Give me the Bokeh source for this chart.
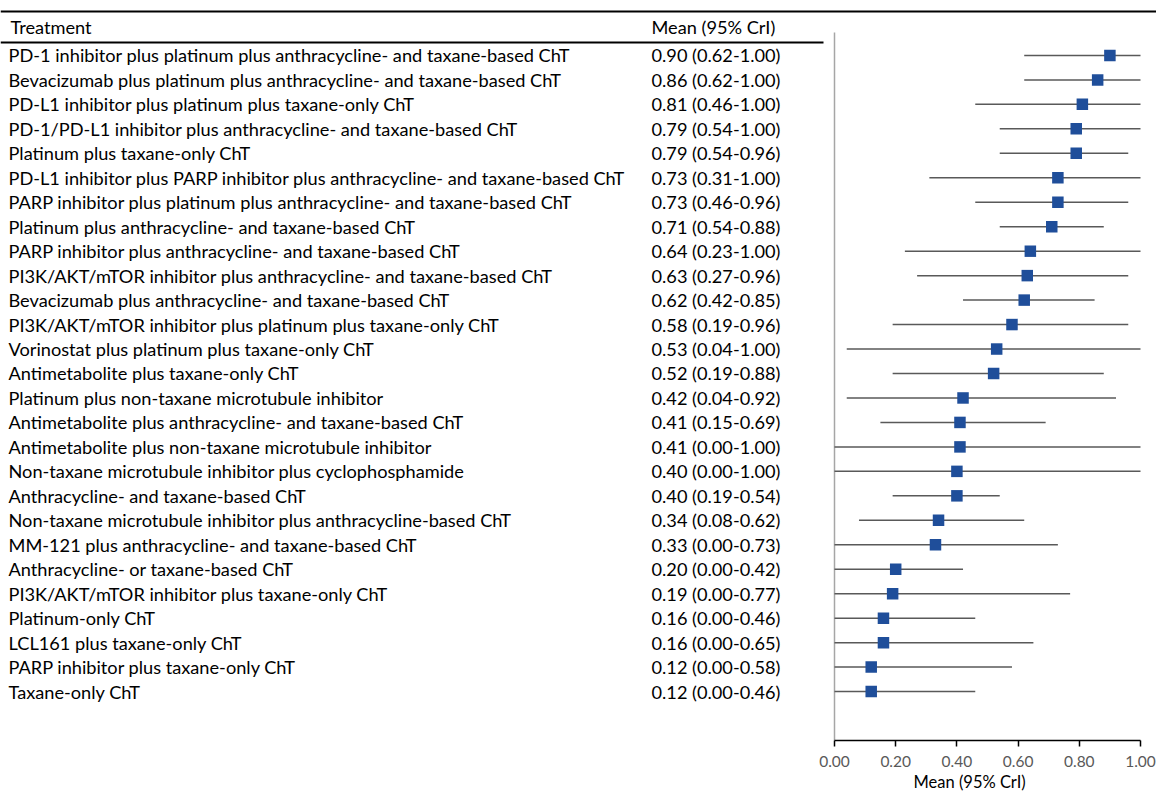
from bokeh.plotting import figure
from bokeh.models import Range1d, LinearAxis, FixedTicker, NumeralTickFormatter, ColumnDataSource, Title
from bokeh.core.properties import value
from bokeh.embed import file_html
from bokeh.resources import INLINE

treatments = [
    "PD-1 inhibitor plus platinum plus anthracycline- and taxane-based ChT",
    "Bevacizumab plus platinum plus anthracycline- and taxane-based ChT",
    "PD-L1 inhibitor plus platinum plus taxane-only ChT",
    "PD-1/PD-L1 inhibitor plus anthracycline- and taxane-based ChT",
    "Platinum plus taxane-only ChT",
    "PD-L1 inhibitor plus PARP inhibitor plus anthracycline- and taxane-based ChT",
    "PARP inhibitor plus platinum plus anthracycline- and taxane-based ChT",
    "Platinum plus anthracycline- and taxane-based ChT",
    "PARP inhibitor plus anthracycline- and taxane-based ChT",
    "PI3K/AKT/mTOR inhibitor plus anthracycline- and taxane-based ChT",
    "Bevacizumab plus anthracycline- and taxane-based ChT",
    "PI3K/AKT/mTOR inhibitor plus platinum plus taxane-only ChT",
    "Vorinostat plus platinum plus taxane-only ChT",
    "Antimetabolite plus taxane-only ChT",
    "Platinum plus non-taxane microtubule inhibitor",
    "Antimetabolite plus anthracycline- and taxane-based ChT",
    "Antimetabolite plus non-taxane microtubule inhibitor",
    "Non-taxane microtubule inhibitor plus cyclophosphamide",
    "Anthracycline- and taxane-based ChT",
    "Non-taxane microtubule inhibitor plus anthracycline-based ChT",
    "MM-121 plus anthracycline- and taxane-based ChT",
    "Anthracycline- or taxane-based ChT",
    "PI3K/AKT/mTOR inhibitor plus taxane-only ChT",
    "Platinum-only ChT",
    "LCL161 plus taxane-only ChT",
    "PARP inhibitor plus taxane-only ChT",
    "Taxane-only ChT",
]
means = [0.90, 0.86, 0.81, 0.79, 0.79, 0.73, 0.73, 0.71, 0.64, 0.63, 0.62, 0.58, 0.53, 0.52,
         0.42, 0.41, 0.41, 0.40, 0.40, 0.34, 0.33, 0.20, 0.19, 0.16, 0.16, 0.12, 0.12]
lowers = [0.62, 0.62, 0.46, 0.54, 0.54, 0.31, 0.46, 0.54, 0.23, 0.27, 0.42, 0.19, 0.04, 0.19,
          0.04, 0.15, 0.00, 0.00, 0.19, 0.08, 0.00, 0.00, 0.00, 0.00, 0.00, 0.00, 0.00]
uppers = [1.00, 1.00, 1.00, 1.00, 0.96, 1.00, 0.96, 0.88, 1.00, 0.96, 0.85, 0.96, 1.00, 0.88,
          0.92, 0.69, 1.00, 1.00, 0.54, 0.62, 0.73, 0.42, 0.77, 0.46, 0.65, 0.58, 0.46]
x_ticks = [0.0, 0.2, 0.4, 0.6, 0.8, 1.0]
x_title = "Mean (95% CrI)"

n = len(treatments)
rows = list(range(n))
labels = [f"{m:.2f} ({lo:.2f}-{hi:.2f})" for m, lo, hi in zip(means, lowers, uppers)]

FONT = "Lato"
TXT = "18.2px"
W, H = 1156, 791
# layout constants (pixels within the figure)
AX0, PX_PER_UNIT = 834.0, 306.0
ROW0, ROW_STEP = 55.0, 24.5
FRAME_BOTTOM = 741
def xd(px):
    return (px - AX0) / PX_PER_UNIT
def yd(py):
    return (py - ROW0) / ROW_STEP

p = figure(width=W, height=H, output_backend="svg", toolbar_location=None,
           x_range=Range1d(xd(0), xd(W)), y_range=Range1d(yd(FRAME_BOTTOM), yd(0)),
           x_axis_location=None, y_axis_location=None,
           min_border_left=0, min_border_right=0, min_border_top=0,
           min_border_bottom=H - FRAME_BOTTOM)
p.outline_line_color = None
p.xgrid.visible = False
p.ygrid.visible = False
p.background_fill_color = "white"
p.border_fill_color = "white"

ax = LinearAxis(bounds=(0, 1), ticker=FixedTicker(ticks=x_ticks),
                formatter=NumeralTickFormatter(format="0.00"))
ax.axis_line_color = "#000000"
ax.axis_line_width = 1.5
ax.major_tick_line_color = "#000000"
ax.major_tick_line_width = 1.5
ax.major_tick_out = 6
ax.major_tick_in = 0
ax.minor_tick_line_color = None
ax.major_label_text_font = FONT
ax.major_label_text_font_size = "15.5px"
ax.major_label_text_color = "#595959"
ax.major_label_standoff = 9
p.add_layout(ax, "below")

xt = Title(text=x_title, align="left", offset=913, standoff=0,
           text_font=FONT, text_font_size="16.5px", text_font_style="normal",
           text_color="#000000")
p.add_layout(xt, "below")

# table rules
p.segment(x0=[xd(0)], y0=[yd(11)], x1=[xd(W)], y1=[yd(11)], line_color="black", line_width=2)
p.segment(x0=[xd(0)], y0=[yd(42)], x1=[xd(823)], y1=[yd(42)], line_color="black", line_width=2)
# vertical reference axis
p.segment(x0=[0], y0=[yd(32)], x1=[0], y1=[yd(FRAME_BOTTOM)], line_color="#a6a6a6", line_width=1.5)

# headers
p.text(x=[xd(10)], y=[yd(27)], text=["Treatment"], text_font=value(FONT), text_font_size=TXT,
       text_baseline="middle", text_align="left", text_color="#000000")
p.text(x=[xd(651)], y=[yd(27)], text=["Mean (95% CrI)"], text_font=value(FONT), text_font_size=TXT,
       text_baseline="middle", text_align="left", text_color="#000000")

src = ColumnDataSource(dict(row=rows, name=treatments, lab=labels, m=means, lo=lowers, hi=uppers))
p.text(x=xd(8), y="row", text="name", source=src, text_font=value(FONT), text_font_size=TXT,
       text_baseline="middle", text_align="left", text_color="#000000")
p.text(x=xd(651), y="row", text="lab", source=src, text_font=value(FONT), text_font_size=TXT,
       text_baseline="middle", text_align="left", text_color="#000000")

p.segment(x0="lo", y0="row", x1="hi", y1="row", source=src, line_color="#595959", line_width=1.5)
p.scatter(x="m", y="row", source=src, marker="square", size=11.5, fill_color="#1F4E9A", line_color=None)

open("out.html", "w").write(file_html(p, INLINE))
